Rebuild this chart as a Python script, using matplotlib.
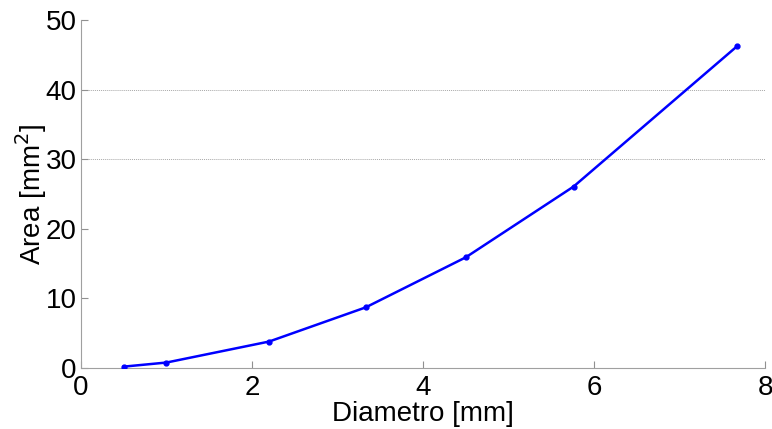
import matplotlib
matplotlib.use("Agg")
import matplotlib.pyplot as plt

diametro = [0.5, 1.0, 2.2, 3.33, 4.5, 5.76, 7.67]
area = [0.196, 0.785, 3.80, 8.71, 15.90, 26.06, 46.2]
xticks = [0, 2, 4, 6, 8]
yticks = [0, 10, 20, 30, 40, 50]
grid_levels = [30, 40]

plt.rcParams['font.family'] = ['Liberation Sans', 'DejaVu Sans']

fig = plt.figure(figsize=(7.72, 4.29), dpi=100)
ax = fig.add_axes([0.1049, 0.1422, 0.8861, 0.8112])

for g in grid_levels:
    ax.axhline(g, color='#a8a8a8', lw=0.7, ls=(0, (1, 1)), zorder=1)

ax.plot(diametro, area, color='#0000ff', lw=1.8, marker='o', ms=3.5, zorder=3)

ax.set_xlim(0, 8)
ax.set_ylim(0, 50)
ax.set_xticks(xticks)
ax.set_yticks(yticks)
ax.tick_params(direction='in', length=5, width=0.8, color='#909090',
               labelsize=20)
ax.tick_params(axis='x', pad=5)
ax.tick_params(axis='y', pad=3)
for s in ['top', 'right']:
    ax.spines[s].set_visible(False)
for s in ['left', 'bottom']:
    ax.spines[s].set_color('#a0a0a0')
    ax.spines[s].set_linewidth(0.8)

ax.set_xlabel('Diametro [mm]', fontsize=20, labelpad=0)
ax.set_ylabel('Area [mm$^2$]', fontsize=20, labelpad=-2)

fig.savefig('out.png', dpi=100)
